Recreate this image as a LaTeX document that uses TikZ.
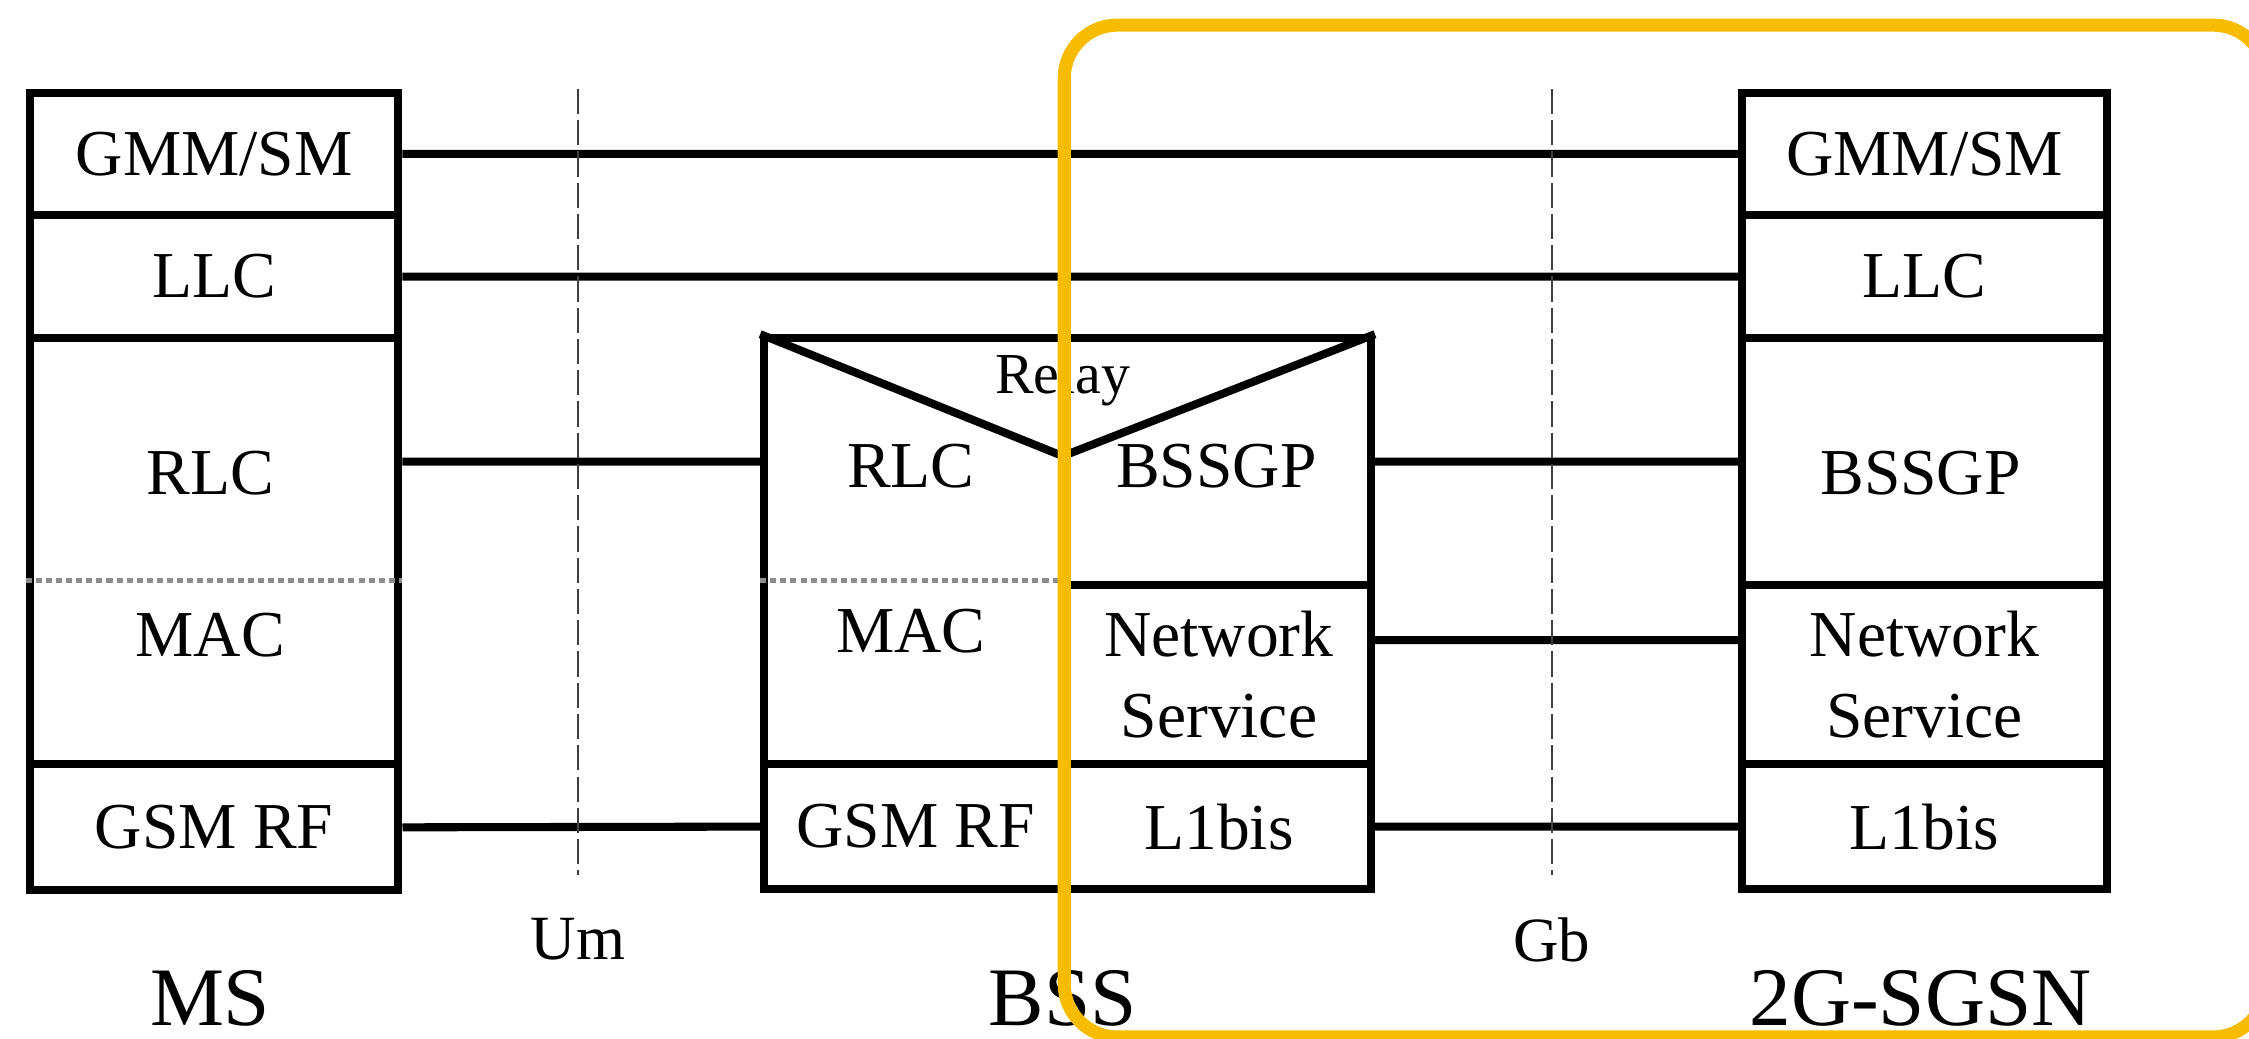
\documentclass[tikz,border=0pt]{standalone}
\usepackage{fontspec}
\setmainfont{Liberation Serif}
\usetikzlibrary{positioning,calc}
\definecolor{hlyel}{RGB}{247,187,0}
\tikzset{
  lay/.style   = {draw, line width=1.6pt, inner sep=0pt, anchor=north west,
                  align=center, font=\fontsize{13}{16.2}\selectfont},
  txt/.style   = {inner sep=0pt, font=\fontsize{13}{16.2}\selectfont},
  lnk/.style   = {line width=1.6pt},
  sepd/.style  = {line width=1pt, black!45, dash pattern=on 1.2pt off 0.8pt},
  iface/.style = {line width=0.45pt, black!75, dash pattern=on 5pt off 1.2pt},
  ttl/.style   = {inner sep=0pt, font=\fontsize{16.5}{19}\selectfont},
  ifl/.style   = {inner sep=0pt, font=\fontsize{12.5}{15}\selectfont},
  hl/.style    = {draw=hlyel, line width=2.6pt, rounded corners=3.7mm},
}

\begin{document}
\begin{tikzpicture}[x=0.1mm, y=-0.1mm]
  \useasboundingbox (0,0) rectangle (1568,724);
  \coordinate (macln) at (0,405);
  % MS stack
  \node[lay, minimum width=25.7mm, minimum height=8.5mm]  (msgmm) at (18,62)  {GMM/SM};
  \node[lay, minimum width=25.7mm, minimum height=8.6mm]  (msllc) at (18,147) {LLC};
  \node[lay, minimum width=25.7mm, minimum height=29.7mm] (msrm)  at (18,233) {};
  \node[lay, minimum width=25.7mm, minimum height=8.8mm]  (msrf)  at (18,530) {GSM RF};
  \node[txt] (msrlc) at (146.5,330) {RLC};
  \node[txt] (msmac) at (146.5,443) {MAC};
  \draw[sepd] (msrm.west |- macln) -- (msrm.east |- macln);
  % BSS stack
  \node[lay, minimum width=21.1mm, minimum height=29.7mm] (bsrm) at (530,233) {};
  \node[lay, minimum width=21.1mm, minimum height=8.7mm]  (bsrf) at (530,530) {GSM RF};
  \node[lay, minimum width=21.2mm, minimum height=17.2mm] (bsgp) at (741,233) {};
  \node[lay, minimum width=21.2mm, minimum height=12.5mm] (bsns) at (741,405) {Network\\Service};
  \node[lay, minimum width=21.2mm, minimum height=8.7mm]  (bsl1) at (741,530) {L1bis};
  \node[txt] (bsrlc) at (635,325) {RLC};
  \node[txt] (bsmac) at (635,440) {MAC};
  \node[txt] (bsgpt) at (848,325) {BSSGP};
  \node[txt, font=\fontsize{11.5}{14}\selectfont] (relay) at (741,265) {Relay};
  \draw[sepd] (bsrm.west |- macln) -- (bsrm.east |- macln);
  \coordinate (vtip) at (741,318);
  \draw[lnk] (bsrm.north west) -- (vtip) -- (bsgp.north east);
  % 2G-SGSN stack
  \node[lay, minimum width=25.4mm, minimum height=8.5mm]  (sggmm) at (1212,62)  {GMM/SM};
  \node[lay, minimum width=25.4mm, minimum height=8.6mm]  (sgllc) at (1212,147) {LLC};
  \node[lay, minimum width=25.4mm, minimum height=17.2mm] (sggp)  at (1212,233) {};
  \node[lay, minimum width=25.4mm, minimum height=12.5mm] (sgns)  at (1212,405) {Network\\Service};
  \node[lay, minimum width=25.4mm, minimum height=8.7mm]  (sgl1)  at (1212,530) {L1bis};
  \node[txt] (sggpt) at (1339,330) {BSSGP};
  % peer links
  \draw[lnk] (msgmm.east) -- (sggmm.west)
             (msllc.east) -- (sgllc.west)
             (msrm.east |- bsgp) -- (bsrm.west |- bsgp)
             (msrf.east) -- (bsrf.west)
             (bsgp.east) -- (sggp.west)
             ([yshift=2.4mm]bsns.east) -- ([yshift=2.4mm]sgns.west)
             (bsl1.east) -- (sgl1.west);
  % interfaces
  \coordinate (umtop) at (403,62);
  \coordinate (gbtop) at (1082,62);
  \draw[iface] (umtop) -- ++(0,548);
  \draw[iface] (gbtop) -- ++(0,548);
  \node[ifl] (um) at (403,655)  {Um};
  \node[ifl] (gb) at (1082,655) {Gb};
  % titles
  \node[ttl] (ms)   at (146.5,696) {MS};
  \node[ttl] (bss)  at (741,696)   {BSS};
  \node[ttl] (sgsn) at (1339,696)  {2G-SGSN};
  % highlight
  \draw[hl] (742,17.5) rectangle (1580,723);
\end{tikzpicture}
\end{document}
